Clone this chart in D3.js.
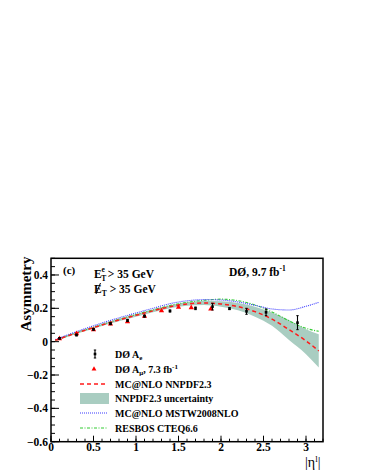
<!DOCTYPE html>
<html>
<head>
<meta charset="utf-8">
<script src="https://cdn.jsdelivr.net/npm/d3@7"></script>
<style>
  body { margin: 0; background: #fff; }
  svg text { font-family: "Liberation Serif", "DejaVu Serif", serif; }
</style>
</head>
<body>
<div id="chart"></div>
<script>
// DØ electron asymmetry (black points with error bars)
var etaE = [0.1, 0.3, 0.5, 0.7, 0.9, 1.1, 1.4, 1.7, 1.9, 2.1, 2.3, 2.53, 2.9];
var asymE = [0.02, 0.04, 0.074, 0.108, 0.127, 0.153, 0.184, 0.2, 0.21, 0.198, 0.182, 0.176, 0.114];
var errE = [0.005, 0.005, 0.005, 0.006, 0.006, 0.006, 0.006, 0.008, 0.02, 0.006, 0.018, 0.02, 0.042];

// DØ muon asymmetry, 7.3 fb-1 (red triangles)
var etaMu = [0.1, 0.3, 0.5, 0.7, 0.9, 1.1, 1.3, 1.5, 1.65, 1.88];
var asymMu = [0.018, 0.048, 0.072, 0.106, 0.12, 0.152, 0.186, 0.206, 0.204, 0.196];

// theory curves
var etaCurve = [0.05, 0.2, 0.4, 0.6, 0.8, 1.0, 1.2, 1.4, 1.6, 1.8, 2.0, 2.2, 2.4, 2.6, 2.8, 3.0, 3.15];
var nnpdf = [0.008, 0.035, 0.068, 0.1, 0.13, 0.158, 0.185, 0.21, 0.226, 0.232, 0.226, 0.21, 0.18, 0.135, 0.072, 0.005, -0.055];
var nnpdfLo = [0.003, 0.03, 0.062, 0.094, 0.123, 0.15, 0.177, 0.201, 0.216, 0.22, 0.21, 0.188, 0.15, 0.095, 0.01, -0.075, -0.155];
var nnpdfHi = [0.013, 0.04, 0.074, 0.106, 0.137, 0.166, 0.193, 0.219, 0.236, 0.244, 0.242, 0.232, 0.21, 0.175, 0.13, 0.075, 0.045];
var mstw = [0.012, 0.042, 0.078, 0.112, 0.143, 0.172, 0.2, 0.228, 0.245, 0.252, 0.25, 0.238, 0.218, 0.196, 0.19, 0.212, 0.236];
var resbos = [0.008, 0.036, 0.07, 0.103, 0.134, 0.163, 0.19, 0.217, 0.236, 0.248, 0.255, 0.246, 0.22, 0.178, 0.125, 0.08, 0.062];

var xTicks = [0, 0.5, 1, 1.5, 2, 2.5, 3];
var yTicks = [-0.6, -0.4, -0.2, 0, 0.2, 0.4];

var legendLabels = ["DØ A_e", "DØ A_μ, 7.3 fb-1", "MC@NLO NNPDF2.3", "NNPDF2.3 uncertainty", "MC@NLO MSTW2008NLO", "RESBOS CTEQ6.6"];

var W = 366, H = 473;
var bandColor = "#a9cdc1";

var svg = d3.select("#chart").append("svg")
  .attr("width", W).attr("height", H);

var x = d3.scaleLinear().domain([0, 3.2]).range([51, 323]);
var y = d3.scaleLinear().domain([-0.6, 0.5]).range([441.7, 258.3]);

svg.append("clipPath").attr("id", "clip")
  .append("rect")
  .attr("x", x(0)).attr("y", y(0.5))
  .attr("width", x(3.2) - x(0)).attr("height", y(-0.6) - y(0.5));

var plot = svg.append("g").attr("clip-path", "url(#clip)");

// uncertainty band
var bandData = etaCurve.map(function (e, i) { return [e, nnpdfLo[i], nnpdfHi[i]]; });
plot.append("path")
  .datum(bandData)
  .attr("fill", bandColor)
  .attr("d", d3.area()
    .x(function (d) { return x(d[0]); })
    .y0(function (d) { return y(d[1]); })
    .y1(function (d) { return y(d[2]); })
    .curve(d3.curveMonotoneX));

var line = d3.line()
  .x(function (d) { return x(d[0]); })
  .y(function (d) { return y(d[1]); })
  .curve(d3.curveMonotoneX);

function pairs(vals) {
  return etaCurve.map(function (e, i) { return [e, vals[i]]; });
}

var styles = {
  nnpdf: { color: "#ff1a1a", width: 1.5, dash: "4,3" },
  mstw: { color: "#3a3aff", width: 1.1, dash: "1,1" },
  resbos: { color: "#33cc33", width: 1.1, dash: "3,1.5,1,1.5" }
};

plot.append("path").datum(pairs(resbos))
  .attr("fill", "none").attr("stroke", styles.resbos.color)
  .attr("stroke-width", styles.resbos.width).attr("stroke-dasharray", styles.resbos.dash)
  .attr("d", line);
plot.append("path").datum(pairs(mstw))
  .attr("fill", "none").attr("stroke", styles.mstw.color)
  .attr("stroke-width", styles.mstw.width).attr("stroke-dasharray", styles.mstw.dash)
  .attr("d", line);
plot.append("path").datum(pairs(nnpdf))
  .attr("fill", "none").attr("stroke", styles.nnpdf.color)
  .attr("stroke-width", styles.nnpdf.width).attr("stroke-dasharray", styles.nnpdf.dash)
  .attr("d", line);

// muon triangles
var tri = d3.symbol().type(d3.symbolTriangle).size(12);
plot.selectAll(".mu").data(etaMu).enter().append("path")
  .attr("class", "mu")
  .attr("transform", function (d, i) { return "translate(" + x(d) + "," + y(asymMu[i]) + ")"; })
  .attr("d", tri)
  .attr("fill", "#ff0000");

// electron points with error bars
function errorMark(g, cx, cy, lo, hi) {
  g.append("line").attr("x1", cx).attr("x2", cx).attr("y1", lo).attr("y2", hi)
    .attr("stroke", "#000").attr("stroke-width", 1.1);
  g.append("line").attr("x1", cx - 1.2).attr("x2", cx + 1.2).attr("y1", lo).attr("y2", lo)
    .attr("stroke", "#000").attr("stroke-width", 1);
  g.append("line").attr("x1", cx - 1.2).attr("x2", cx + 1.2).attr("y1", hi).attr("y2", hi)
    .attr("stroke", "#000").attr("stroke-width", 1);
  g.append("rect").attr("x", cx - 1.3).attr("y", cy - 1.3).attr("width", 2.6).attr("height", 2.6)
    .attr("fill", "#000");
}
etaE.forEach(function (e, i) {
  errorMark(plot, x(e), y(asymE[i]), y(asymE[i] - errE[i]), y(asymE[i] + errE[i]));
});

// axes frame
svg.append("rect")
  .attr("x", x(0)).attr("y", y(0.5))
  .attr("width", x(3.2) - x(0)).attr("height", y(-0.6) - y(0.5))
  .attr("fill", "none").attr("stroke", "#000").attr("stroke-width", 1.5);

// ticks (inward)
var xMinor = d3.range(0, 3.21, 0.1);
svg.selectAll(".xminor").data(xMinor).enter().append("line")
  .attr("x1", function (d) { return x(d); }).attr("x2", function (d) { return x(d); })
  .attr("y1", y(-0.6)).attr("y2", y(-0.6) - 3)
  .attr("stroke", "#000").attr("stroke-width", 1);
svg.selectAll(".xmajor").data(xTicks).enter().append("line")
  .attr("x1", function (d) { return x(d); }).attr("x2", function (d) { return x(d); })
  .attr("y1", y(-0.6)).attr("y2", y(-0.6) - 6)
  .attr("stroke", "#000").attr("stroke-width", 1);
svg.selectAll(".xlab").data(xTicks).enter().append("text")
  .attr("x", function (d) { return x(d); }).attr("y", 451)
  .attr("text-anchor", "middle").attr("font-size", 11.5).attr("font-weight", "bold")
  .text(function (d) { return d3.format("")(d); });

var yMinor = d3.range(-0.6, 0.501, 0.05);
svg.selectAll(".yminor").data(yMinor).enter().append("line")
  .attr("x1", x(0)).attr("x2", x(0) + 4)
  .attr("y1", function (d) { return y(d); }).attr("y2", function (d) { return y(d); })
  .attr("stroke", "#000").attr("stroke-width", 1);
svg.selectAll(".ymajor").data(yTicks).enter().append("line")
  .attr("x1", x(0)).attr("x2", x(0) + 8)
  .attr("y1", function (d) { return y(d); }).attr("y2", function (d) { return y(d); })
  .attr("stroke", "#000").attr("stroke-width", 1);
svg.selectAll(".ylab").data(yTicks).enter().append("text")
  .attr("x", 48).attr("y", function (d) { return y(d) + 4; })
  .attr("text-anchor", "end").attr("font-size", 11.5).attr("font-weight", "bold")
  .text(function (d) { return d3.format(".1f")(d).replace("-", "\u2212").replace("0.0", "0"); });

// axis titles
svg.append("text")
  .attr("transform", "translate(31,294) rotate(-90)")
  .attr("text-anchor", "middle").attr("font-size", 15).attr("font-weight", "bold")
  .text("Asymmetry");

var xt = svg.append("text").attr("x", 305).attr("y", 467).attr("font-size", 14);
xt.append("tspan").text("|\u03b7");
xt.append("tspan").attr("dy", -5).attr("font-size", 9).text("l");
xt.append("tspan").attr("dy", 5).text("|");

// annotations
svg.append("text").attr("x", 63).attr("y", 274).attr("font-size", 11).attr("font-weight", "bold").text("(c)");

var t1 = svg.append("text").attr("x", 94).attr("y", 278).attr("font-size", 11.5).attr("font-weight", "bold");
t1.append("tspan").text("E");
t1.append("tspan").attr("dx", -0.5).attr("dy", 3).attr("font-size", 7.5).text("T");
t1.append("tspan").attr("dx", -4).attr("dy", -9).attr("font-size", 7.5).text("e");
t1.append("tspan").attr("dx", 3).attr("dy", 6).text("> 35 GeV");

var t2 = svg.append("text").attr("x", 94).attr("y", 293).attr("font-size", 11.5).attr("font-weight", "bold");
t2.append("tspan").text("E");
t2.append("tspan").attr("dy", 3).attr("font-size", 7.5).text("T");
t2.append("tspan").attr("dx", 3).attr("dy", -3).text("> 35 GeV");
svg.append("line").attr("x1", 96).attr("y1", 294).attr("x2", 100.5).attr("y2", 283)
  .attr("stroke", "#000").attr("stroke-width", 1);

var t3 = svg.append("text").attr("x", 229).attr("y", 276).attr("font-size", 11.5).attr("font-weight", "bold");
t3.append("tspan").text("DØ, 9.7 fb");
t3.append("tspan").attr("dy", -5).attr("font-size", 7.5).text("-1");

// legend
var legY = [354, 369, 384, 398.5, 413, 428];
var legX0 = 80, legX1 = 108, textX = 115;
var leg = svg.append("g");

errorMark(leg, 95, legY[0], legY[0] + 4, legY[0] - 4);
leg.append("path").attr("transform", "translate(94," + legY[1] + ")")
  .attr("d", d3.symbol().type(d3.symbolTriangle).size(10)).attr("fill", "#ff0000");
leg.append("line").attr("x1", legX0).attr("x2", legX1).attr("y1", legY[2]).attr("y2", legY[2])
  .attr("stroke", styles.nnpdf.color).attr("stroke-width", styles.nnpdf.width).attr("stroke-dasharray", styles.nnpdf.dash);
leg.append("rect").attr("x", legX0).attr("y", legY[3] - 5.5).attr("width", legX1 - legX0 + 1).attr("height", 11)
  .attr("fill", bandColor);
leg.append("line").attr("x1", legX0).attr("x2", legX1).attr("y1", legY[4]).attr("y2", legY[4])
  .attr("stroke", styles.mstw.color).attr("stroke-width", styles.mstw.width).attr("stroke-dasharray", styles.mstw.dash);
leg.append("line").attr("x1", legX0).attr("x2", legX1).attr("y1", legY[5]).attr("y2", legY[5])
  .attr("stroke", styles.resbos.color).attr("stroke-width", styles.resbos.width).attr("stroke-dasharray", styles.resbos.dash);

legendLabels.forEach(function (lab, i) {
  var t = leg.append("text").attr("x", textX).attr("y", legY[i] + 3.5)
    .attr("font-size", 10).attr("font-weight", "bold");
  if (i === 0) {
    t.append("tspan").text("DØ A");
    t.append("tspan").attr("dy", 2.5).attr("font-size", 7).text("e");
  } else if (i === 1) {
    t.append("tspan").text("DØ A");
    t.append("tspan").attr("dy", 2.5).attr("font-size", 7).text("\u03bc");
    t.append("tspan").attr("dy", -2.5).text(", 7.3 fb");
    t.append("tspan").attr("dy", -4).attr("font-size", 7).text("-1");
  } else {
    t.text(lab);
  }
});
</script>
</body>
</html>
